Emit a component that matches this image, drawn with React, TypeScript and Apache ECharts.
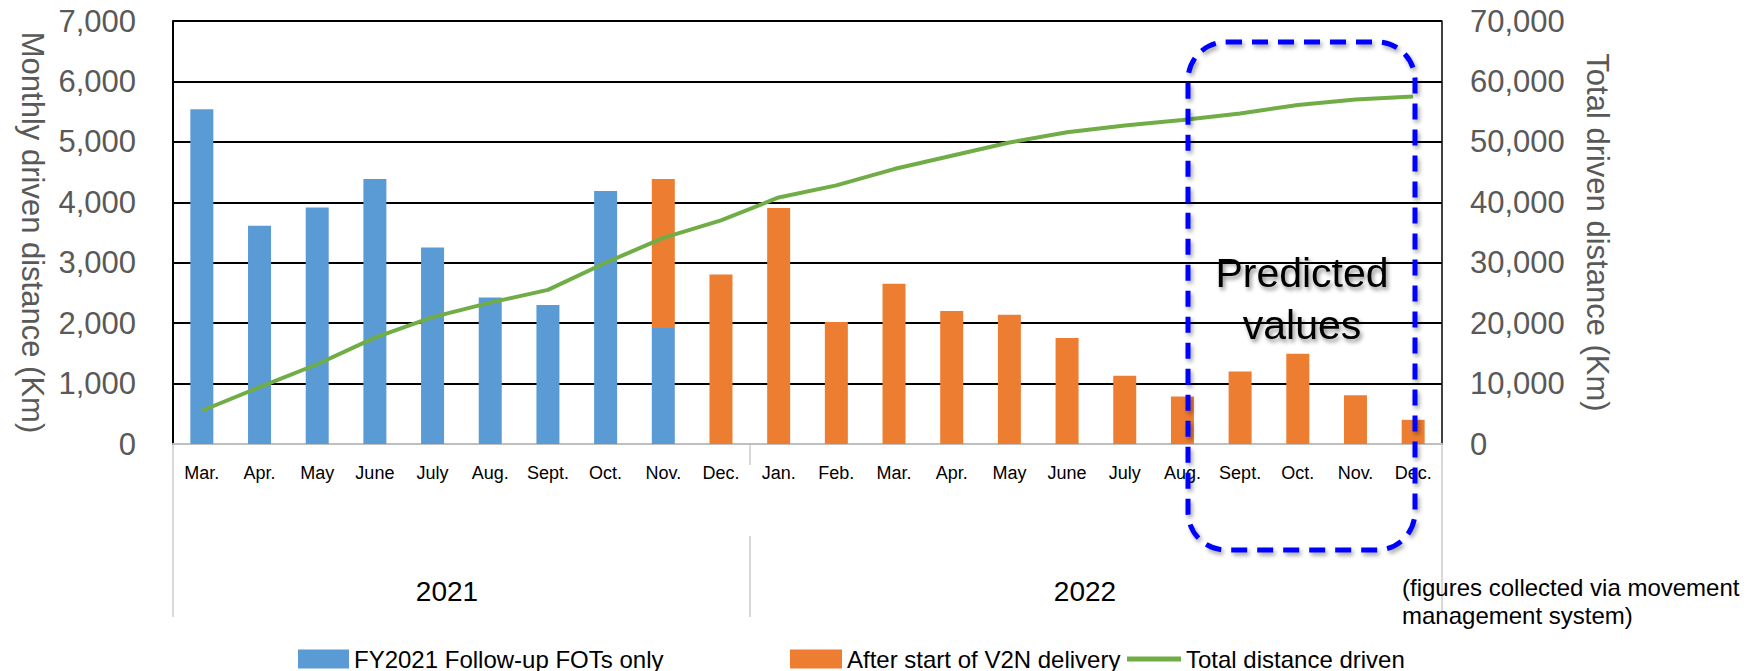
import React, { useEffect, useRef } from 'react';
import * as echarts from 'echarts';

const FONT = "'Liberation Sans', Arial, Helvetica, sans-serif";

const months = ['Mar.', 'Apr.', 'May', 'June', 'July', 'Aug.', 'Sept.', 'Oct.', 'Nov.', 'Dec.', 'Jan.', 'Feb.', 'Mar.', 'Apr.', 'May', 'June', 'July', 'Aug.', 'Sept.', 'Oct.', 'Nov.', 'Dec.'];
const monthYears = ['2021', '2021', '2021', '2021', '2021', '2021', '2021', '2021', '2021', '2021', '2022', '2022', '2022', '2022', '2022', '2022', '2022', '2022', '2022', '2022', '2022', '2022'];
const years = ['2021', '2022'];

const followUpOnly = [5540, 3610, 3915, 4385, 3250, 2425, 2300, 4185, 1920, null, null, null, null, null, null, null, null, null, null, null, null, null];
const afterV2N = [null, null, null, null, null, null, null, null, 2465, 2805, 3905, 2020, 2650, 2200, 2140, 1755, 1130, 785, 1200, 1495, 805, 400];
const totalDistance = [5500, 9400, 13200, 17600, 21000, 23400, 25500, 30000, 34100, 37000, 40800, 42800, 45500, 47700, 49900, 51600, 52700, 53600, 54700, 56100, 57000, 57500];

const seriesNames = ['FY2021 Follow-up FOTs only', 'After start of V2N delivery', 'Total distance driven'];
const axisNames = ['Monthly driven distance (Km)', 'Total driven distance (Km)'];
const noteText = '(figures collected via movement\nmanagement system)';
const predictedText = 'Predicted\nvalues';

const categories = months.map((m, i) => monthYears[i] + ' ' + m);
const fmt = (v: number) => v.toLocaleString('en-US');

export default function App() {
  const ref = useRef<HTMLDivElement>(null);
  useEffect(() => {
    if (!ref.current) return;
    const chart = echarts.init(ref.current, null, { renderer: 'svg' });
    const sepColor = '#D9D9D9';
    chart.setOption({
      animation: false,
      backgroundColor: '#ffffff',
      textStyle: { fontFamily: FONT },
      grid: { left: 173, right: 310, top: 21, bottom: 227, containLabel: false, outerBoundsMode: 'none' },
      legend: [
        {
          data: [seriesNames[0]], left: 298, top: 647, padding: 0, itemWidth: 51, itemHeight: 19, icon: 'rect',
          textStyle: { fontSize: 24, color: '#000', fontFamily: FONT },
        },
        {
          data: [seriesNames[1]], left: 790, top: 647, padding: 0, itemWidth: 52, itemHeight: 19, icon: 'rect',
          textStyle: { fontSize: 24, color: '#000', fontFamily: FONT },
        },
        {
          data: [{ name: seriesNames[2], icon: 'rect', itemStyle: { color: '#70AD47' } }], left: 1127, top: 647, padding: 0, itemWidth: 54, itemHeight: 5,
          textStyle: { fontSize: 24, color: '#000', fontFamily: FONT },
        },
      ],
      xAxis: {
        type: 'category',
        data: categories,
        axisLine: { show: true, lineStyle: { color: '#BFBFBF', width: 2 } },
        axisTick: { show: false },
        axisLabel: {
          interval: 0, margin: 20, fontSize: 18, color: '#000', fontFamily: FONT,
          formatter: (_v: string, i: number) => months[i],
        },
        splitLine: { show: false },
      },
      yAxis: [
        {
          type: 'value', min: 0, max: 7000, interval: 1000,
          name: axisNames[0], nameLocation: 'middle', nameRotate: -90, nameGap: 125,
          nameTextStyle: { fontSize: 31, color: '#595959', fontFamily: FONT },
          axisLine: { show: true, lineStyle: { color: '#000', width: 2 } },
          axisTick: { show: false },
          axisLabel: { fontSize: 31, color: '#595959', margin: 37, fontFamily: FONT, formatter: fmt },
          splitLine: { show: true, showMinLine: false, lineStyle: { color: '#000', width: 2 } },
        },
        {
          type: 'value', min: 0, max: 70000, interval: 10000, position: 'right',
          name: axisNames[1], nameLocation: 'middle', nameRotate: -90, nameGap: 140,
          nameTextStyle: { fontSize: 31, color: '#595959', fontFamily: FONT },
          axisLine: { show: true, lineStyle: { color: '#000', width: 1.5 } },
          axisTick: { show: false },
          axisLabel: { fontSize: 31, color: '#595959', margin: 28, fontFamily: FONT, formatter: fmt },
          splitLine: { show: false },
        },
      ],
      series: [
        {
          name: seriesNames[0], type: 'bar', stack: 'monthly', data: followUpOnly, barWidth: 23,
          itemStyle: { color: '#5B9BD5' }, z: 2,
        },
        {
          name: seriesNames[1], type: 'bar', stack: 'monthly', data: afterV2N, barWidth: 23,
          itemStyle: { color: '#ED7D31' }, z: 2,
        },
        {
          name: seriesNames[2], type: 'line', yAxisIndex: 1, data: totalDistance, symbol: 'none',
          color: '#70AD47', lineStyle: { color: '#70AD47', width: 4 }, itemStyle: { color: '#70AD47' }, z: 3,
        },
      ],
      graphic: [
        { type: 'line', shape: { x1: 173, y1: 444, x2: 173, y2: 617 }, style: { stroke: sepColor, lineWidth: 2 }, silent: true },
        { type: 'line', shape: { x1: 750, y1: 444, x2: 750, y2: 465 }, style: { stroke: sepColor, lineWidth: 2 }, silent: true },
        { type: 'line', shape: { x1: 750, y1: 536, x2: 750, y2: 617 }, style: { stroke: sepColor, lineWidth: 2 }, silent: true },
        { type: 'line', shape: { x1: 1442, y1: 444, x2: 1442, y2: 612 }, style: { stroke: sepColor, lineWidth: 2 }, silent: true },
        {
          type: 'text', x: 447, y: 591, silent: true,
          style: { text: years[0], fontSize: 28, fill: '#000', fontFamily: FONT, align: 'center', verticalAlign: 'middle' },
        },
        {
          type: 'text', x: 1085, y: 591, silent: true,
          style: { text: years[1], fontSize: 28, fill: '#000', fontFamily: FONT, align: 'center', verticalAlign: 'middle' },
        },
        {
          type: 'text', x: 1402, y: 573, silent: true,
          style: { text: noteText, fontSize: 24, lineHeight: 28, fill: '#000', fontFamily: FONT, align: 'left', verticalAlign: 'top' },
        },
        {
          type: 'text', x: 1302, y: 299, z: 10, silent: true,
          style: {
            text: predictedText, fontSize: 41, lineHeight: 52, fill: '#000', fontFamily: FONT, align: 'center', verticalAlign: 'middle',
            textShadowColor: 'rgba(0,0,0,0.45)', textShadowBlur: 4, textShadowOffsetX: 2, textShadowOffsetY: 3,
          },
        },
        {
          type: 'rect', z: 10, silent: true,
          shape: { x: 1188, y: 42, width: 227, height: 508, r: 38 },
          style: {
            fill: 'none', stroke: '#0000FF', lineWidth: 5, lineDash: [16, 10],
            shadowColor: 'rgba(0,0,0,0.35)', shadowBlur: 4, shadowOffsetX: 2, shadowOffsetY: 3,
          },
        },
      ],
    });
    return () => chart.dispose();
  }, []);
  return <div ref={ref} style={{ position: 'absolute', left: 0, top: 0, width: 1752, height: 671 }} />;
}
